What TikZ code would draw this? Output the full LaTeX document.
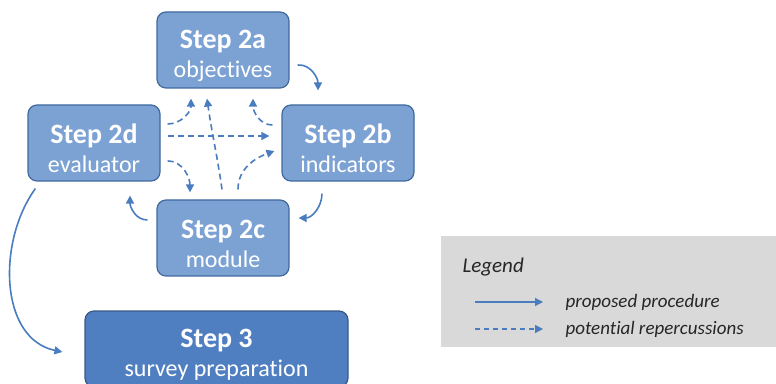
\documentclass[tikz,border=0pt]{standalone}
\usepackage{fontspec}
\setmainfont{Carlito}[Ligatures=NoCommon]
\usetikzlibrary{arrows.meta}

\definecolor{stepblue}{HTML}{7CA2D4}
\definecolor{finalblue}{HTML}{4F7FC1}
\definecolor{edgeblue}{HTML}{41699E}
\definecolor{arrowblue}{HTML}{4A7DC0}
\definecolor{legendgray}{HTML}{D9D9D9}
\definecolor{legendtext}{HTML}{262626}

\newcommand{\steplabel}[2]{\rule{0pt}{30pt}{\fontsize{28}{29}\selectfont\bfseries #1}\\#2}

\begin{document}
\begin{tikzpicture}[x=1pt,y=1pt,
    stepbox/.style={draw=edgeblue, line width=1.2pt, fill=stepblue, rounded corners=9pt,
      minimum width=132pt, minimum height=76pt, inner sep=0pt, align=center, text=white,
      font=\fontsize{24}{29}\selectfont},
    finalbox/.style={stepbox, fill=finalblue, draw=edgeblue!85!black, minimum width=263pt},
    flow/.style={draw=arrowblue, line width=1.6pt, -{Triangle[length=8pt,width=8pt]}},
    maybe/.style={flow, dash pattern=on 6pt off 4pt},
    legendtxt/.style={anchor=west, text=legendtext, font=\fontsize{19}{22}\selectfont\itshape}]

	\clip (0,0) rectangle (776,383);

	\node[stepbox] (s2a) at (223,333) {\steplabel{Step 2a}{objectives}};
	\node[stepbox] (s2d) at (94,240) {\steplabel{Step 2d}{evaluator}};
	\node[stepbox] (s2b) at (348,240) {\steplabel{Step 2b}{indicators}};
	\node[stepbox] (s2c) at (223,145) {\steplabel{Step 2c}{module}};
	\node[finalbox] (s3) at (216.5,34) {\steplabel{Step 3}{survey preparation}};

	\draw[flow] ([shift={(8,-15)}]s2a.east) to[out=5,in=90] ([shift={(-30,14)}]s2b.north);
	\draw[flow] ([shift={(-26,-12)}]s2b.south) to[out=-90,in=0] ([shift={(9,20)}]s2c.east);
	\draw[flow] ([shift={(-9,18)}]s2c.west) to[out=180,in=-90] ([shift={(36,-14)}]s2d.south);
	\draw[flow] ([shift={(8,-7)}]s2d.south west) to[out=-126,in=168] ([shift={(-22,-3)}]s3.west);

	\draw[maybe] ([shift={(7,19)}]s2d.east) to[out=0,in=-90] ([shift={(-32,-10)}]s2a.south);
	\draw[maybe] ([shift={(7,7)}]s2d.east) -- ([shift={(-12,7)}]s2b.west);
	\draw[maybe] ([shift={(7,-18)}]s2d.east) to[out=0,in=90] ([shift={(-33,7)}]s2c.north);
	\draw[maybe] ([shift={(-1,10)}]s2c.north) to[out=98,in=-82] ([shift={(-16,-10)}]s2a.south);
	\draw[maybe] ([shift={(15,10)}]s2c.north) to[out=90,in=200] ([shift={(-7,-8)}]s2b.west);
	\draw[maybe] ([shift={(-9,18)}]s2b.west) to[out=180,in=-90] ([shift={(30,-10)}]s2a.south);

	\fill[legendgray] (441,36) rectangle (776,147);
	\node[legendtxt, font=\fontsize{21}{24}\selectfont\itshape] (lgd) at (459,116) {Legend};
	\node[legendtxt] (lproc) at (562,81) {proposed procedure};
	\node[legendtxt] (lrep) at (562,54) {potential repercussions};
	\coordinate (lsa) at (475,81);
	\coordinate (lsb) at (475,54);
	\draw[flow, line width=1.2pt] (lsa) -- ([xshift=-19pt]lproc.west);
	\draw[maybe, line width=1.2pt, dash pattern=on 5pt off 4pt] (lsb) -- ([xshift=-19pt]lrep.west);
\end{tikzpicture}
\end{document}
